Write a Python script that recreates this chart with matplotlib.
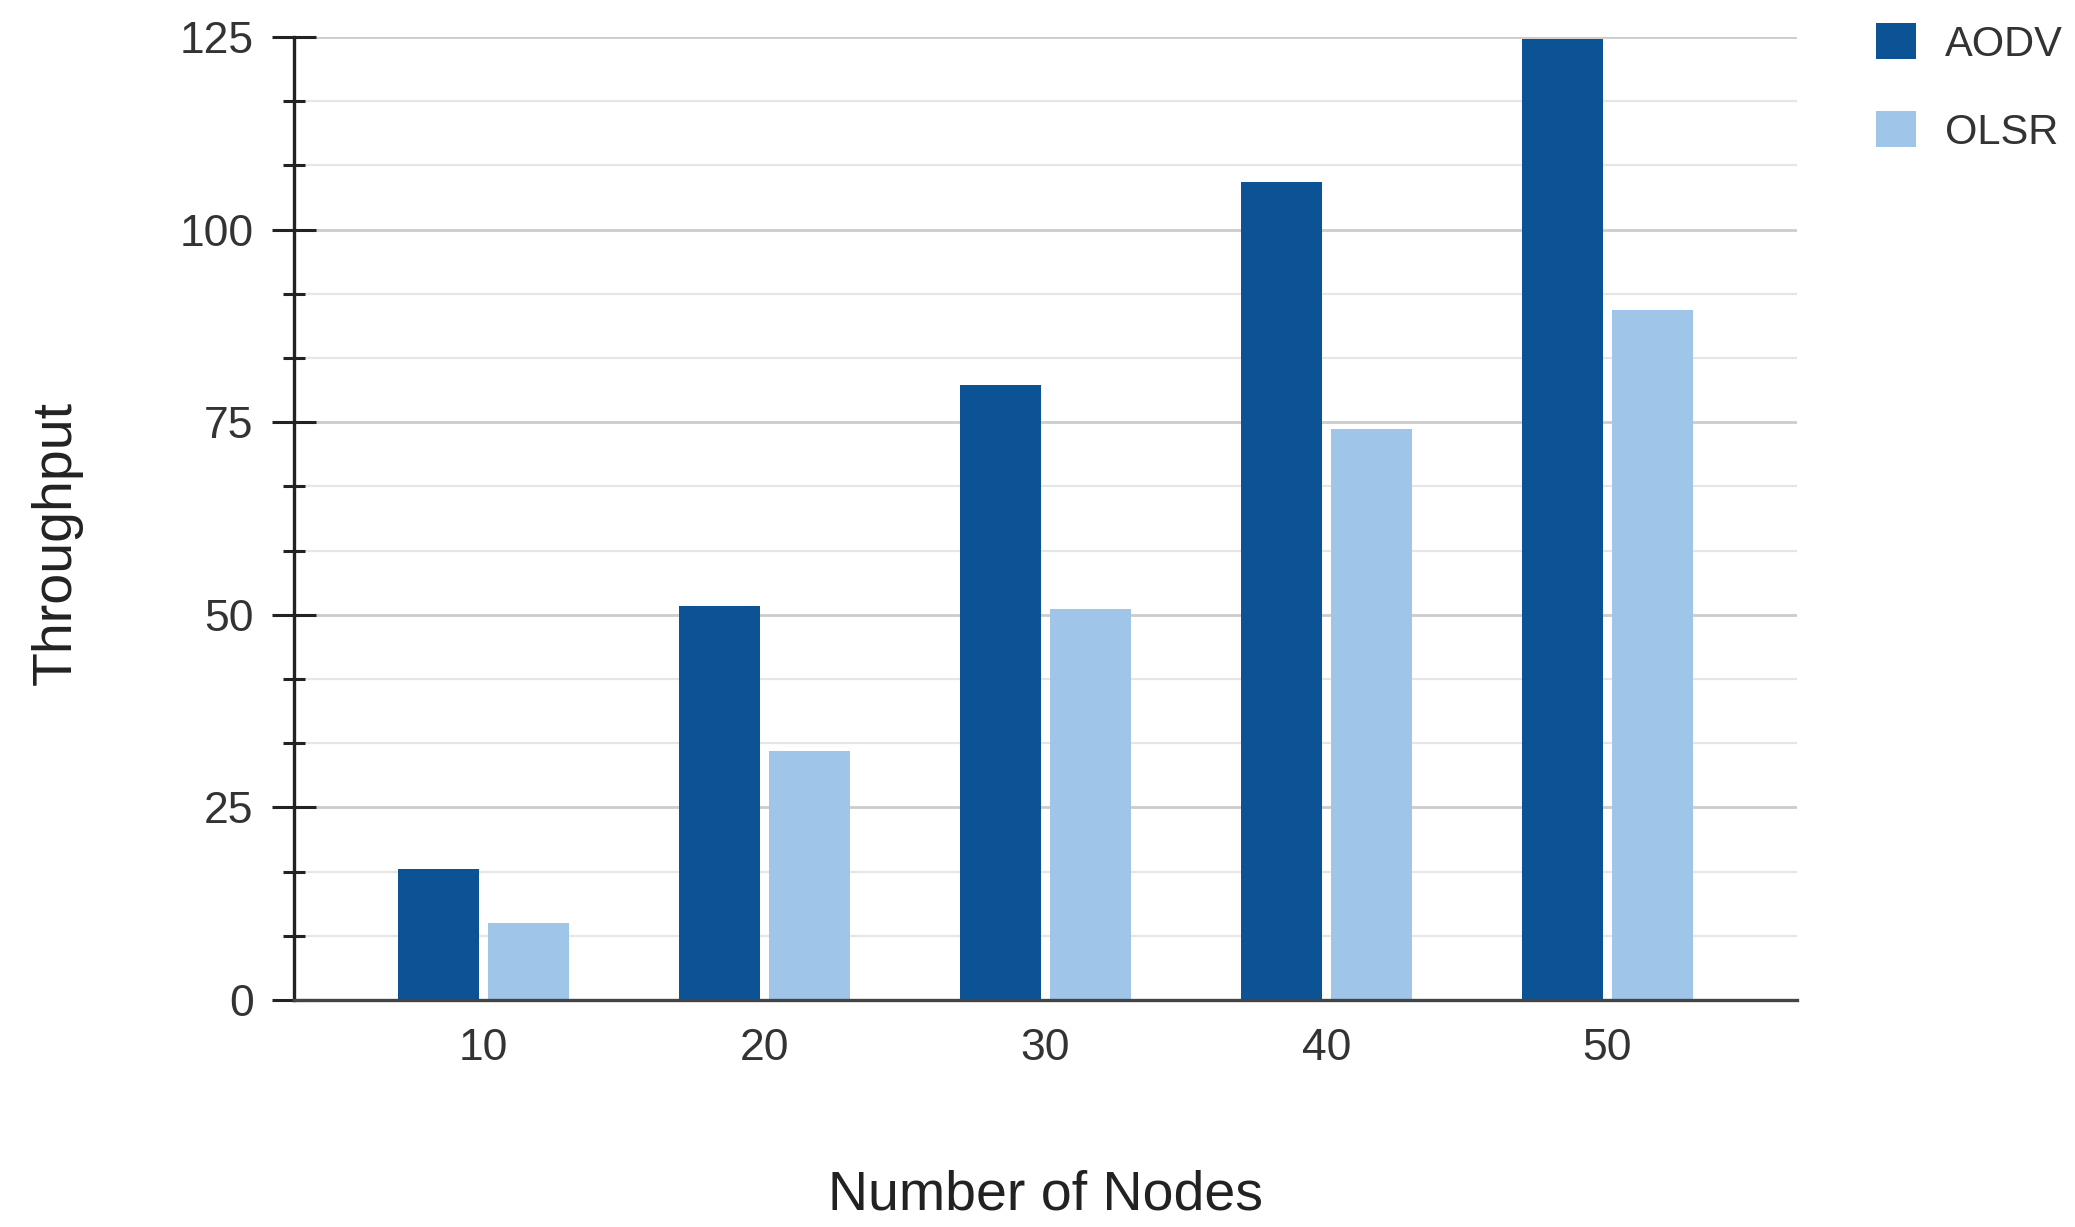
import matplotlib
matplotlib.use("Agg")
import matplotlib.pyplot as plt
from matplotlib.patches import Patch
from matplotlib.ticker import MultipleLocator
import numpy as np

# Throughput by network size for two routing protocols
nodes = ["10", "20", "30", "40", "50"]
aodv = [17, 51.2, 79.8, 106.2, 124.7]
olsr = [10, 32.3, 50.7, 74.1, 89.6]
series_names = ["AODV", "OLSR"]

AODV_COLOR = "#0b5394"
OLSR_COLOR = "#9fc5e8"
TEXT_COLOR = "#333333"

plt.rcParams["font.family"] = ["Liberation Sans", "DejaVu Sans"]

W, H = 2075, 1227
fig = plt.figure(figsize=(W / 100, H / 100), dpi=100)
ax = fig.add_axes([294 / W, 1 - 1000 / H, (1797 - 294) / W, (1000 - 37) / H])

x = np.arange(len(nodes))
bw = 0.29
off = 0.16
ax.bar(x - off, aodv, width=bw, color=AODV_COLOR, zorder=3)
ax.bar(x + off, olsr, width=bw, color=OLSR_COLOR, zorder=3)

ax.set_xlim(-0.675, 4.675)
ax.set_ylim(0, 125)

ax.yaxis.set_major_locator(MultipleLocator(25))
ax.yaxis.set_minor_locator(MultipleLocator(25 / 3))
ax.grid(axis="y", which="major", color="#cccccc", linewidth=2.0, zorder=0)
ax.grid(axis="y", which="minor", color="#e6e6e6", linewidth=1.6, zorder=0)

ax.set_xticks(x)
ax.set_xticklabels(nodes)
ax.tick_params(axis="x", length=0, pad=20, labelsize=32, labelcolor=TEXT_COLOR)
ax.tick_params(axis="y", which="major", direction="inout", length=32,
               width=2.2, color="#222222", pad=13, labelsize=32,
               labelcolor=TEXT_COLOR)
ax.tick_params(axis="y", which="minor", direction="inout", length=16,
               width=2.2, color="#222222")

for side in ["top", "right"]:
    ax.spines[side].set_visible(False)
ax.spines["left"].set_color("#222222")
ax.spines["left"].set_linewidth(2.4)
ax.spines["bottom"].set_color("#444444")
ax.spines["bottom"].set_linewidth(2.4)
ax.spines["left"].set_zorder(4)
ax.spines["bottom"].set_zorder(4)

fig.text(1045 / W, 1 - 1195 / H, "Number of Nodes", ha="center", va="center",
         fontsize=40, color="#222222")
fig.text(57 / W, 1 - 543 / H, "Throughput", ha="center", va="center",
         rotation=90, fontsize=40, color="#222222")

handles = [Patch(facecolor=AODV_COLOR, edgecolor="none"),
           Patch(facecolor=OLSR_COLOR, edgecolor="none")]
fig.legend(handles, series_names, loc="upper left",
           bbox_to_anchor=(1868 / W, 1 - 15 / H), frameon=False, fontsize=30,
           handlelength=0.95, handleheight=0.95, handletextpad=0.7,
           labelspacing=1.12, borderpad=0.2, borderaxespad=0,
           labelcolor=TEXT_COLOR)

fig.savefig("out.png", dpi=100, facecolor="white")
